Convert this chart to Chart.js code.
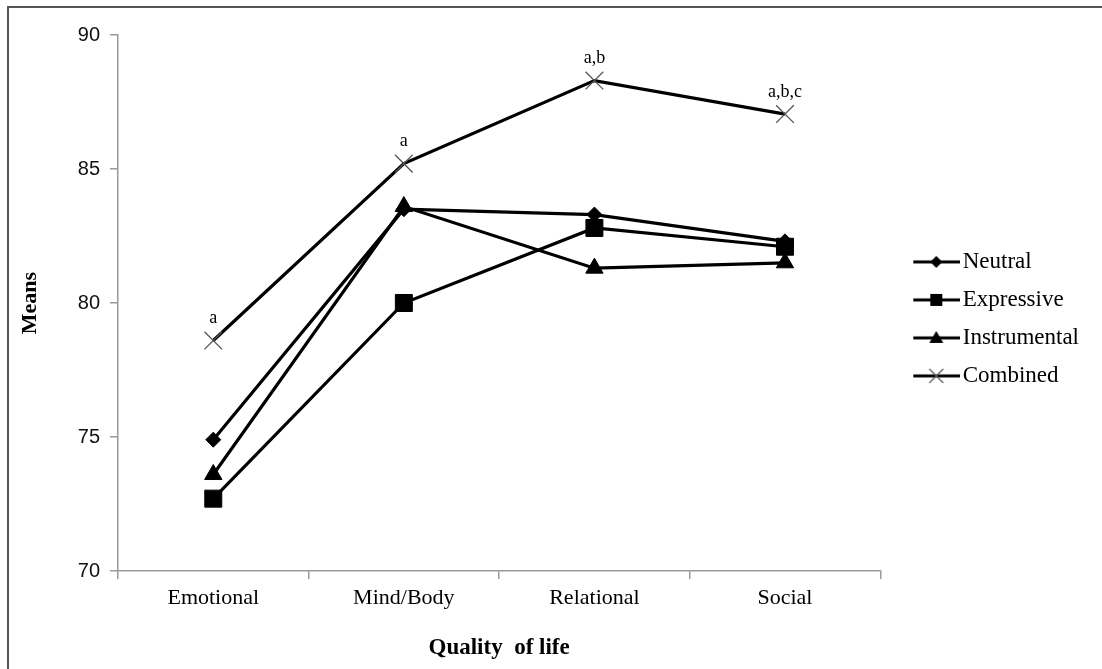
<!DOCTYPE html>
<html>
<head>
<meta charset="utf-8">
<script src="https://cdn.jsdelivr.net/npm/chart.js@4.4.1/dist/chart.umd.min.js"></script>
<style>
  body { margin: 0; background: #fff; }
  #wrap { position: relative; width: 1102px; height: 669px; }
  #frame { position: absolute; left: 7px; top: 6px; right: -4px; bottom: -4px;
           border-left: 2px solid #555; border-top: 2px solid #555; pointer-events: none; }
</style>
</head>
<body>
<div id="wrap">
  <canvas id="qol" width="1102" height="669"></canvas>
  <div id="frame"></div>
</div>
<script>
const categories = ['Emotional', 'Mind/Body', 'Relational', 'Social'];
const neutral = [74.9, 83.5, 83.3, 82.3];
const expressive = [72.7, 80.0, 82.8, 82.1];
const instrumental = [73.6, 83.6, 81.3, 81.5];
const combined = [78.6, 85.2, 88.3, 87.05];
const combinedNotes = ['a', 'a', 'a,b', 'a,b,c'];
const yTicks = [70, 75, 80, 85, 90];

// little line+marker pictures for the legend
function legendIcon(shape) {
    const c = document.createElement('canvas');
    c.width = 74;
    c.height = 24;
    const g = c.getContext('2d');
    const cx = 50, cy = 12;
    g.strokeStyle = '#000';
    g.lineWidth = 3.2;
    g.beginPath();
    g.moveTo(27, cy);
    g.lineTo(74, cy);
    g.stroke();
    g.fillStyle = '#000';
    g.beginPath();
    if (shape === 'diamond') {
        g.moveTo(cx, cy - 6); g.lineTo(cx + 6, cy); g.lineTo(cx, cy + 6); g.lineTo(cx - 6, cy);
        g.closePath(); g.fill();
    } else if (shape === 'square') {
        g.rect(cx - 6, cy - 6, 12, 12); g.fill();
    } else if (shape === 'triangle') {
        g.moveTo(cx, cy - 7); g.lineTo(cx + 7, cy + 5); g.lineTo(cx - 7, cy + 5);
        g.closePath(); g.fill();
    } else {
        g.strokeStyle = '#555';
        g.lineWidth = 1.2;
        g.moveTo(cx - 7, cy - 7); g.lineTo(cx + 7, cy + 7);
        g.moveTo(cx + 7, cy - 7); g.lineTo(cx - 7, cy + 7);
        g.stroke();
    }
    return c;
}
const legendIcons = [legendIcon('diamond'), legendIcon('square'), legendIcon('triangle'), legendIcon('cross')];

const notesPlugin = {
    id: 'notes',
    afterDatasetsDraw(chart) {
        const meta = chart.getDatasetMeta(3);
        const ctx = chart.ctx;
        ctx.save();
        ctx.font = '18px "Liberation Serif"';
        ctx.fillStyle = '#000';
        ctx.textAlign = 'center';
        ctx.textBaseline = 'middle';
        meta.data.forEach((pt, i) => {
            ctx.fillText(combinedNotes[i], pt.x, pt.y - 22);
        });
        ctx.restore();
    }
};

const lineStyle = {
    borderColor: '#000',
    borderWidth: 3.2,
    pointBackgroundColor: '#000',
    pointBorderColor: '#000',
    pointBorderWidth: 1,
    tension: 0,
};

const myQol = new Chart(document.getElementById('qol').getContext('2d'), {
    type: 'line',
    data: {
        labels: categories,
        datasets: [
            { ...lineStyle, label: 'Neutral', data: neutral, pointStyle: 'rectRot', pointRadius: 7.5 },
            { ...lineStyle, label: 'Expressive', data: expressive, pointStyle: 'rect', pointRadius: 12 },
            { ...lineStyle, label: 'Instrumental', data: instrumental, pointStyle: 'triangle', pointRadius: 10 },
            { ...lineStyle, label: 'Combined', data: combined, pointStyle: 'crossRot', pointRadius: 12.5,
              pointBorderColor: '#555', pointBorderWidth: 1.3 },
        ],
    },
    options: {
        responsive: false,
        animation: false,
        layout: { padding: { top: 35, right: 13, left: 0, bottom: 0 } },
        plugins: {
            tooltip: { enabled: false },
            legend: {
                position: 'right',
                align: 'start',
                fullSize: false,
                title: { display: true, text: ' ', padding: { top: 186, bottom: 0 } },
                labels: {
                    usePointStyle: true,
                    pointStyleWidth: 56,
                    padding: 15,
                    color: '#000',
                    font: { family: '"Liberation Serif"', size: 23 },
                    generateLabels(chart) {
                        const items = Chart.defaults.plugins.legend.labels.generateLabels(chart);
                        items.forEach((it, i) => { it.pointStyle = legendIcons[i]; it.rotation = 0; });
                        return items;
                    },
                },
            },
        },
        scales: {
            x: {
                offset: true,
                grid: { offset: true, drawOnChartArea: false, color: '#999', tickLength: 8, lineWidth: 1.5 },
                border: { color: '#999', width: 1.5 },
                ticks: { color: '#000', padding: 6, font: { family: '"Liberation Serif"', size: 22 } },
                title: {
                    display: true, text: 'Quality  of life', color: '#000',
                    font: { family: '"Liberation Serif"', size: 23, weight: 'bold' },
                    padding: { top: 0, bottom: 7 },
                },
                afterFit(scale) { scale.height = 98; },
            },
            y: {
                min: 70,
                max: 90,
                afterBuildTicks(scale) { scale.ticks = yTicks.map(v => ({ value: v })); },
                grid: { drawOnChartArea: false, color: '#999', tickLength: 8, lineWidth: 1.5 },
                border: { color: '#999', width: 1.5 },
                ticks: { color: '#111', padding: 10, font: { family: '"Liberation Sans"', size: 20 } },
                title: {
                    display: true, text: 'Means', color: '#000',
                    font: { family: '"Liberation Serif"', size: 22, weight: 'bold' },
                    padding: 17,
                },
                afterFit(scale) { scale.width = 118; },
            },
        },
    },
    plugins: [notesPlugin],
});
</script>
</body>
</html>
